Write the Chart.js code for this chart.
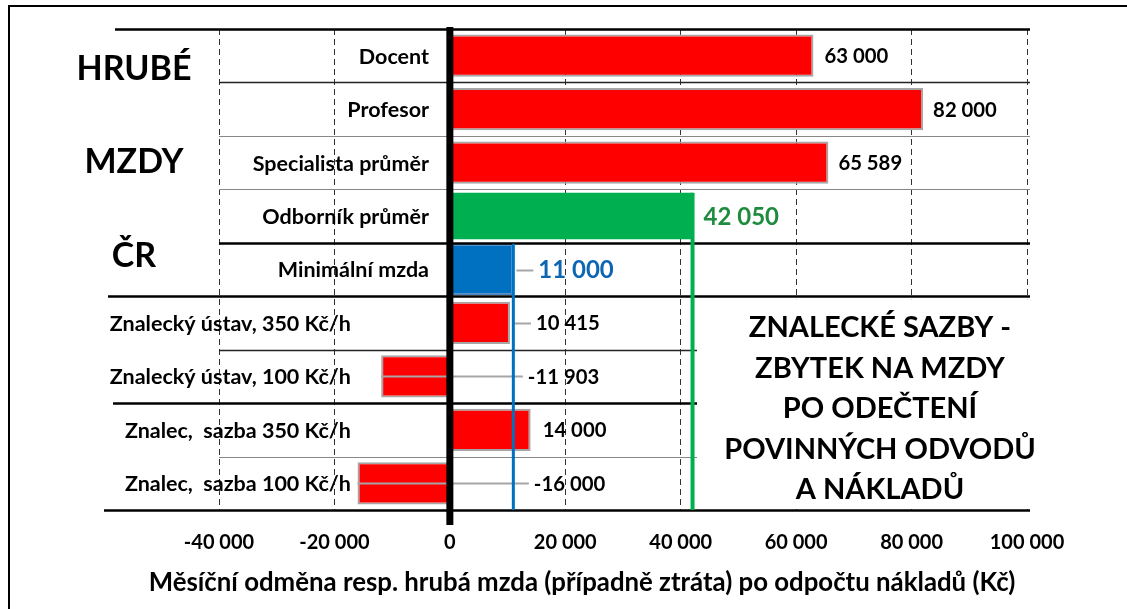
<!DOCTYPE html>
<html><head><meta charset="utf-8">
<script src="https://cdn.jsdelivr.net/npm/chart.js@4.4.1/dist/chart.umd.min.js"></script>
<style>html,body{margin:0;padding:0;background:#fff;overflow:hidden}canvas{display:block}</style>
</head><body>
<canvas id="c" width="1127" height="609"></canvas>
<script>
// ---- data ----
const categories = ['Docent','Profesor','Specialista průměr','Odborník průměr','Minimální mzda','Znalecký ústav, 350 Kč/h','Znalecký ústav, 100 Kč/h','Znalec,  sazba 350 Kč/h','Znalec,  sazba 100 Kč/h'];
const redValues   = [63000, 82000, 65589, null, null, 10415, -11903, 14000, -16000];
const greenValues = [null, null, null, 42050, null, null, null, null, null];
const blueValues  = [null, null, null, null, 11000, null, null, null, null];
const xMin = -40000, xMax = 100000, xStep = 20000;
const groupTitles = ['HRUBÉ','MZDY','ČR'];
const noteLines = ['ZNALECKÉ SAZBY -','ZBYTEK NA MZDY','PO ODEČTENÍ','POVINNÝCH ODVODŮ','A NÁKLADŮ'];
const axisTitle = 'Měsíční odměna resp. hrubá mzda (případně ztráta) po odpočtu nákladů (Kč)';

// ---- helpers ----
const F = 'Lato, "Open Sans", sans-serif';
function fmt(v){ const s = Math.abs(v).toString().replace(/\B(?=(\d{3})+(?!\d))/g,' '); return (v<0?'-':'')+s; }
function valueAt(i){ return redValues[i] ?? greenValues[i] ?? blueValues[i]; }

const overlay = {
  id:'overlay',
  beforeDraw(chart){ const c=chart.ctx; c.save(); c.fillStyle='#fff'; c.fillRect(0,0,chart.width,chart.height); c.restore(); },
  afterDatasetsDraw(chart){
    const ctx = chart.ctx, xs = chart.scales.x, ys = chart.scales.y, ca = chart.chartArea;
    const n = categories.length;
    const rowY = i => ys.getPixelForValue(i);
    const boundary = k => k===0 ? ca.top : (k===n ? ca.bottom : (rowY(k-1)+rowY(k))/2);
    const px = v => xs.getPixelForValue(v);
    const x0 = px(0);
    const rightEnd = ca.right + 3;
    ctx.save();
    // horizontal row separators
    const sep = [
      {w:2.5,c:'#000',from:115},{w:1.3,c:'#222',from:ca.left},{w:1.2,c:'#888',from:ca.left},
      {w:1.2,c:'#888',from:ca.left},{w:2.5,c:'#000',from:ca.left},{w:2.5,c:'#000',from:108},
      {w:1.3,c:'#222',from:ca.left},{w:2.5,c:'#000',from:113},{w:1.2,c:'#888',from:ca.left},
      {w:2.5,c:'#000',from:104}];
    sep.forEach((s,k)=>{ const y=Math.round(boundary(k))+0.5; ctx.strokeStyle=s.c; ctx.lineWidth=s.w; ctx.beginPath(); ctx.moveTo(s.from,y); ctx.lineTo(rightEnd,y); ctx.stroke(); });

    // label positions
    const labelX = [];
    for(let i=0;i<n;i++){
      const v = valueAt(i), end = px(v);
      const off = [11,10,10,11,25,26,null,12,null][i];
      labelX[i] = v>=0 ? end+off : x0 + (i===6?78:84);
    }
    // leader lines
    ctx.strokeStyle='#A6A6A6'; ctx.lineWidth=2;
    [[4,px(11000)+3],[5,px(10415)+3],[6,px(-11903)],[8,px(-16000)]].forEach(([i,sx])=>{
      const y=Math.round(rowY(i))+0.5; ctx.beginPath(); ctx.moveTo(sx,y); ctx.lineTo(labelX[i]-5,y); ctx.stroke(); });

    // reference vertical lines
    const gMeta = chart.getDatasetMeta(1).data[3];
    const bMeta = chart.getDatasetMeta(2).data[4];
    ctx.lineWidth=4; ctx.strokeStyle='#00B050';
    ctx.beginPath(); ctx.moveTo(px(greenValues[3]), gMeta.y - gMeta.height/2); ctx.lineTo(px(greenValues[3]), ca.bottom); ctx.stroke();
    ctx.lineWidth=3; ctx.strokeStyle='#0070C0';
    ctx.beginPath(); ctx.moveTo(px(blueValues[4]), bMeta.y - bMeta.height/2); ctx.lineTo(px(blueValues[4]), ca.bottom); ctx.stroke();

    // white note box
    const bTop = boundary(5)+3;
    ctx.fillStyle='#fff'; ctx.fillRect(697, bTop, rightEnd+3-697, ca.bottom-2-bTop);

    // zero line
    ctx.strokeStyle='#000'; ctx.lineWidth=7;
    ctx.beginPath(); ctx.moveTo(x0, ca.top-2); ctx.lineTo(x0, ca.bottom+15); ctx.stroke();

    // category labels
    ctx.fillStyle='#000'; ctx.textAlign='right'; ctx.textBaseline='middle';
    ctx.font='bold 21.5px '+F;
    categories.forEach((c,i)=>{ ctx.fillText(c, i<5?429:351, rowY(i)+1); });

    // value labels
    ctx.textAlign='left';
    for(let i=0;i<n;i++){
      if(i===3){ ctx.font='bold 24px '+F; ctx.fillStyle='#1E8B3E'; }
      else if(i===4){ ctx.font='bold 24px '+F; ctx.fillStyle='#0E66B3'; }
      else { ctx.font='bold 20.3px '+F; ctx.fillStyle='#000'; }
      ctx.fillText(fmt(valueAt(i)), labelX[i], rowY(i)+1);
    }

    // group titles
    ctx.fillStyle='#000'; ctx.textAlign='center'; ctx.textBaseline='alphabetic';
    ctx.font='bold 34px '+F;
    [80,173,267].forEach((y,k)=>ctx.fillText(groupTitles[k],134,y));

    // note text
    ctx.font='bold 29px '+F;
    noteLines.forEach((t,k)=>ctx.fillText(t, 880, 337+40.5*k));

    // axis title
    ctx.textBaseline='middle';
    ctx.font='bold 25.8px '+F;
    ctx.fillText(axisTitle, 582, 583);

    // outer frame
    ctx.strokeStyle='#000'; ctx.lineWidth=2;
    ctx.strokeRect(9,6,1200,700);
    ctx.restore();
  }
};

new Chart(document.getElementById('c').getContext('2d'), {
  type:'bar',
  data:{ labels: categories, datasets:[
    {data: redValues, backgroundColor:'#FF0000', borderColor:'#A6A6A6', borderWidth:2, barPercentage:0.79, categoryPercentage:1, grouped:false},
    {data: greenValues, backgroundColor:'#00B050', borderWidth:0, barPercentage:0.87, categoryPercentage:1, grouped:false},
    {data: blueValues, backgroundColor:'#0070C0', borderColor:'#4A80BC', borderWidth:2, barPercentage:0.96, categoryPercentage:1, grouped:false}
  ]},
  options:{
    indexAxis:'y', responsive:false, animation:false, devicePixelRatio:1,
    layout:{padding:{left:219, right:100, top:29, bottom:0}},
    plugins:{legend:{display:false}, tooltip:{enabled:false}},
    scales:{
      y:{display:false},
      x:{min:xMin, max:xMax,
         ticks:{stepSize:xStep, callback:v=>fmt(v), font:{family:F,size:20,weight:'bold'}, color:'#000', padding:21, maxRotation:0, autoSkip:false},
         grid:{color:'#333', lineWidth:1, drawTicks:false},
         border:{display:false, dash:[6,4]},
         title:{display:false, text:axisTitle},
         afterFit(s){ s.height = 99; }
      }
    }
  },
  plugins:[overlay]
});
</script>
</body></html>
